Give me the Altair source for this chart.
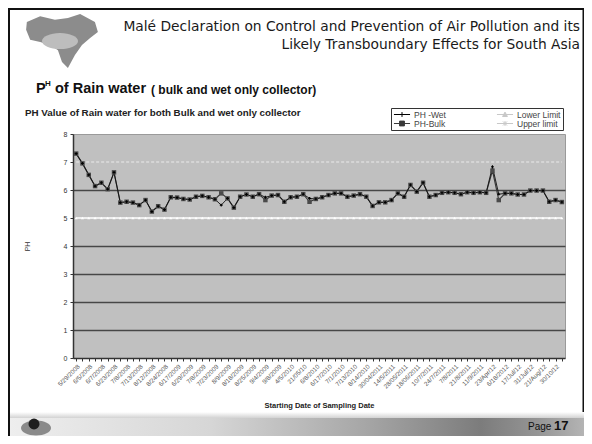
import json
import altair as alt
import pandas as pd

# ---------------- data ----------------
date_labels = [
    "5/29/2008", "6/5/2008", "6/7/2008", "6/23/2008", "7/8/2008", "7/13/2008",
    "8/12/2008", "8/24/2008", "6/17/2009", "6/29/2009", "7/8/2009", "7/23/2009",
    "8/9/2009", "8/18/2009", "8/25/2009", "9/4/2009", "9/8/2009", "4/5/2010",
    "21/05/10", "6/8/2010", "6/17/2010", "7/1/2010", "7/13/2010", "8/14/2010",
    "30/04/2011", "14/5/2011", "28/05/2011", "18/06/2011", "10/7/2011",
    "24/7/2011", "7/8/2011", "21/8/2011", "11/9/2011", "23/Apr/12",
    "6/18/2012", "17/Jul/12", "31/Jul/12", "21/Aug/12", "30/10/12",
]

ph_bulk = [
    7.30, 6.95, 6.54, 6.14, 6.26, 6.03, 6.63, 5.55, 5.58, 5.55,
    5.46, 5.64, 5.23, 5.42, 5.30, 5.74, 5.73, 5.68, 5.66, 5.76,
    5.79, 5.74, 5.67, 5.88, 5.70, 5.37, 5.76, 5.84, 5.76, 5.85,
    5.64, 5.80, 5.82, 5.58, 5.74, 5.76, 5.85, 5.58, 5.68, 5.74,
    5.82, 5.88, 5.88, 5.76, 5.80, 5.85, 5.76, 5.43, 5.56, 5.56,
    5.64, 5.88, 5.76, 6.18, 5.94, 6.26, 5.76, 5.82, 5.90, 5.92,
    5.90, 5.85, 5.92, 5.90, 5.92, 5.90, 6.69, 5.64, 5.88, 5.88,
    5.84, 5.84, 5.98, 5.98, 5.98, 5.58, 5.64, 5.57,
]

ph_wet = [
    7.30, 6.95, 6.54, 6.14, 6.26, 6.03, 6.63, 5.55, 5.58, 5.55,
    5.46, 5.64, 5.23, 5.42, 5.30, 5.74, 5.73, 5.68, 5.66, 5.76,
    5.79, 5.74, 5.67, 5.46, 5.70, 5.37, 5.76, 5.84, 5.76, 5.85,
    5.74, 5.80, 5.82, 5.58, 5.74, 5.76, 5.85, 5.70, 5.68, 5.74,
    5.82, 5.88, 5.88, 5.76, 5.80, 5.85, 5.76, 5.43, 5.56, 5.56,
    5.64, 5.88, 5.76, 6.18, 5.94, 6.26, 5.76, 5.82, 5.90, 5.92,
    5.90, 5.85, 5.92, 5.90, 5.92, 5.90, 6.83, 5.85, 5.88, 5.88,
    5.84, 5.84, 5.98, 5.98, 5.98, 5.58, 5.64, 5.57,
]

lower_limit = 5.0
upper_limit = 7.0

series_names = ["PH -Wet", "PH-Bulk", "Lower Limit", "Upper limit"]

# ---------------- tables ----------------
n = len(ph_bulk)
rows = []
for i in range(n):
    rows.append({"idx": i, "series": "PH-Bulk", "val": ph_bulk[i]})
    rows.append({"idx": i, "series": "PH -Wet", "val": ph_wet[i]})
    rows.append({"idx": i, "series": "Lower Limit", "val": lower_limit})
    rows.append({"idx": i, "series": "Upper limit", "val": upper_limit})
df = pd.DataFrame(rows)

legend_df = pd.DataFrame({"idx": [0] * 4, "series": series_names, "val": [-20] * 4})
one = pd.DataFrame({"a": [0]})

FONT = "Liberation Sans"

label_expr = f"datum.value % 2 == 0 ? {json.dumps(date_labels)}[datum.value / 2] : ''"

x_enc = alt.X(
    "idx:O",
    scale=alt.Scale(type="point", padding=0.5),
    title="Starting Date of Sampling Date",
    axis=alt.Axis(
        labelExpr=label_expr, labelAngle=-45, labelAlign="right", labelBaseline="top",
        labelFontSize=6.3, labelFont=FONT, labelColor="#555", labelOverlap=False,
        labelPadding=2, tickSize=3, tickColor="#333", domainColor="#333",
        domainWidth=1.5, grid=False, titleFont=FONT, titleFontSize=7.5,
        titleFontWeight="bold", titleColor="#222", titleX=246, titleY=47,
        titleBaseline="middle",
    ),
)
y_enc = alt.Y(
    "val:Q",
    scale=alt.Scale(domain=[0, 8], nice=False),
    title="PH",
    axis=alt.Axis(
        values=list(range(9)), labelFontSize=7, labelFont=FONT, labelColor="#333",
        labelPadding=3, tickSize=3, tickColor="#333", domainColor="#333",
        domainWidth=1.5, grid=True,
        gridColor={"condition": {"test": "datum.value == 0 || datum.value == 5 || datum.value == 7 || datum.value == 8",
                                 "value": "transparent"}, "value": "#474747"},
        gridWidth=1.5, titleFont=FONT, titleFontSize=7, titleFontWeight="normal",
        titleColor="#333", titleX=-43, titleY=112,
    ),
)

base = alt.Chart(df)


def sel(name):
    return base.transform_filter(alt.datum.series == name)


upper_line = sel("Upper limit").mark_line(color="#dcdcdc", strokeDash=[3, 2], strokeWidth=1.5).encode(x=x_enc, y=y_enc)
lower_line = sel("Lower Limit").mark_line(color="#ffffff", strokeWidth=1.5).encode(x=x_enc, y=y_enc)
lower_pts = sel("Lower Limit").mark_point(shape="triangle-up", filled=True, size=10, color="#ffffff", opacity=1).encode(x=x_enc, y=y_enc)
bulk_line = sel("PH-Bulk").mark_line(color="#3a3a3a", strokeWidth=1.2).encode(x=x_enc, y=y_enc)
wet_line = sel("PH -Wet").mark_line(color="#111111", strokeWidth=0.9).encode(x=x_enc, y=y_enc)
bulk_pts = sel("PH-Bulk").mark_point(shape="square", filled=True, size=20, color="#4a4a4a", opacity=1).encode(x=x_enc, y=y_enc)
wet_pts = sel("PH -Wet").mark_point(shape="cross", filled=True, size=8, color="#000000", opacity=1).encode(x=x_enc, y=y_enc)

legend_paths = [
    "M-1,0H1M-0.3,0H0.3M0,-0.3V0.3",
    "M-1,0H1M-0.3,-0.3H0.3V0.3H-0.3Z",
    "M-1,0H1M0,-0.3L0.3,0.25H-0.3Z",
    "M-1,0H1M-0.25,-0.25L0.25,0.25M-0.25,0.25L0.25,-0.25M0,-0.3V0.3",
]
leg = alt.Legend(
    orient="none", legendX=318, legendY=-26, columns=2, title=None,
    fillColor="#ffffff", strokeColor="#333333", padding=2, rowPadding=0,
    columnPadding=50, symbolSize=260, symbolStrokeWidth=1, clipHeight=9,
    labelFont=FONT, labelFontSize=8.5, labelColor="#444", labelOffset=3,
    cornerRadius=0,
)
legend_layer = alt.Chart(legend_df).mark_point(filled=True, clip=True, opacity=1).encode(
    x=x_enc, y=y_enc,
    fill=alt.Fill("series:N", scale=alt.Scale(domain=series_names, range=["#000000", "#3a3a3a", "#c8c8c8", "#c8c8c8"]), legend=leg),
    stroke=alt.Stroke("series:N", scale=alt.Scale(domain=series_names, range=["#000000", "#3a3a3a", "#c8c8c8", "#c8c8c8"]), legend=leg),
    shape=alt.Shape("series:N", scale=alt.Scale(domain=series_names, range=legend_paths), legend=leg),
)

# ---------------- slide decorations (pixel positions relative to plot origin) ----------------
def rect(x, x2, y, y2, color):
    return alt.Chart(one).mark_rect(color=color).encode(
        x=alt.value(x), x2=alt.value(x2), y=alt.value(y), y2=alt.value(y2))


def txt(s, x, y, size, weight="normal", align="left", font=FONT, color="#111"):
    return alt.Chart(one).mark_text(
        text=s, fontSize=size, fontWeight=weight, align=align, baseline="middle",
        font=font, color=color,
    ).encode(x=alt.value(x), y=alt.value(y))


footer_grad = alt.LinearGradient(
    gradient="linear", x1=0, x2=1, y1=0, y2=0,
    stops=[alt.GradientStop(offset=0, color="#eeeeee"),
           alt.GradientStop(offset=0.35, color="#d6d6d6"),
           alt.GradientStop(offset=0.62, color="#a6a6a6"),
           alt.GradientStop(offset=0.82, color="#7c7c7c"),
           alt.GradientStop(offset=0.92, color="#959595"),
           alt.GradientStop(offset=1, color="#b4b4b4")],
)
band_grad = alt.LinearGradient(
    gradient="linear", x1=0, x2=0, y1=0, y2=1,
    stops=[alt.GradientStop(offset=0, color="#ffffff"),
           alt.GradientStop(offset=1, color="#d2d2d2")],
)
footer = alt.Chart(one).mark_rect(color=footer_grad).encode(
    x=alt.value(-63), x2=alt.value(511), y=alt.value(284), y2=alt.value(302))
band = alt.Chart(one).mark_rect(color=band_grad).encode(
    x=alt.value(-63), x2=alt.value(511), y=alt.value(278), y2=alt.value(284))

border_left = rect(-65, -63, -126, 302, "#111111")
border_top = rect(-65, 511, -126, -124, "#111111")
border_right = rect(509.5, 511, -126, 278, "#111111")

map_path = ("M-0.95,-0.62L-0.59,-0.78L-0.19,-0.68L0.16,-0.73L0.49,-0.84L0.89,-0.62L0.97,-0.35"
            "L0.76,-0.19L0.54,0L0.35,0.27L0.16,0.62L0,0.46L-0.11,0.14L-0.32,0L-0.59,-0.08"
            "L-0.86,-0.14L-0.97,-0.41Z")
map_logo = alt.Chart(one).mark_point(shape=map_path, filled=True, size=5476, color="#8c8c8c", opacity=1).encode(
    x=alt.value(-11), y=alt.value(-89))
hand = alt.Chart(one).mark_point(shape="M-1,0A1,0.45,0,1,0,1,0A1,0.45,0,1,0,-1,0Z", filled=True, size=1300,
                                 color="#bdbdbd", opacity=1).encode(x=alt.value(-13), y=alt.value(-93))

ellipse = alt.Chart(one).mark_point(shape="M-1,0A1,0.5,0,1,0,1,0A1,0.5,0,1,0,-1,0Z", filled=True, size=900,
                                    color="#8a8a8a", opacity=1).encode(x=alt.value(-37), y=alt.value(294))
dot = alt.Chart(one).mark_point(shape="circle", filled=True, size=120, color="#1e1e1e", opacity=1).encode(
    x=alt.value(-39), y=alt.value(290))

texts = [
    txt("Malé Declaration on Control and Prevention of Air Pollution and its", 507, -107, 13.8,
        align="right", font="DejaVu Sans", color="#1a1a1a"),
    txt("Likely Transboundary Effects for South Asia", 507, -89, 13.8,
        align="right", font="DejaVu Sans", color="#1a1a1a"),
    txt("P", -37, -45, 14.5, weight="bold"),
    txt("H", -28, -50, 8, weight="bold"),
    txt("of Rain water", -18, -45, 14.5, weight="bold"),
    txt("( bulk and wet only collector)", 78, -44, 12, weight="bold"),
    txt("PH Value of Rain water for both Bulk and wet only collector", -48, -21, 9.8, weight="bold",
        color="#222"),
    txt("Page", 455, 293, 10, color="#111"),
    txt("17", 481, 292, 13, weight="bold", color="#111"),
]

chart = alt.layer(
    band, footer, border_left, border_top, border_right, map_logo, hand, ellipse, dot,
    upper_line, lower_line, bulk_line, wet_line, lower_pts, bulk_pts, wet_pts, legend_layer,
    *texts,
).properties(
    width=492, height=224,
    autosize=alt.AutoSizeParams(type="none"),
    padding={"left": 65, "top": 126, "right": 19, "bottom": 78},
).configure(background="#ffffff").configure_view(fill="#c0c0c0", stroke="#9a9a9a")

chart.save("out.html", embed_options={"renderer": "svg", "actions": False})
